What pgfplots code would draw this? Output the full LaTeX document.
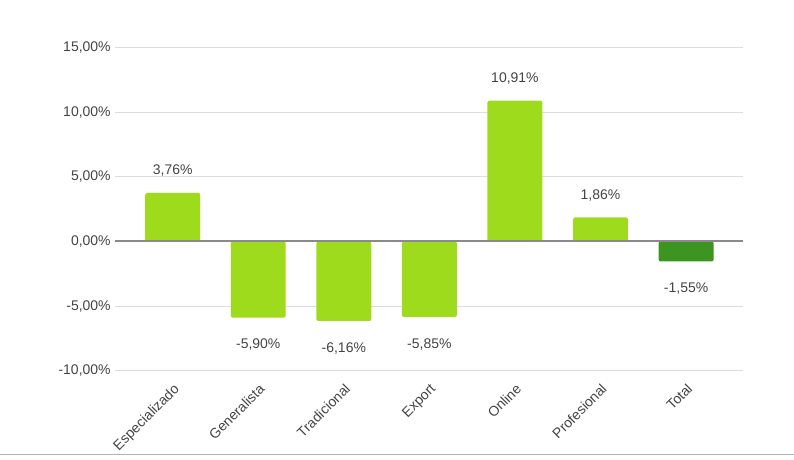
\documentclass[border=0pt]{standalone}
\usepackage{pgfplots}
\pgfplotsset{compat=1.18}
\usepackage{fontspec}
\setmainfont{Liberation Sans}
\definecolor{lgreen}{HTML}{9EDB1C}
\definecolor{dgreen}{HTML}{3E9420}
\definecolor{gridc}{HTML}{DDDDDD}
\definecolor{txt}{HTML}{444444}
\definecolor{zeroc}{HTML}{8A8A8A}
\begin{document}
\begin{tikzpicture}
\begin{axis}[
  scale only axis, width=471pt, height=242.25pt,
  xmin=-0.67, xmax=6.66, ymin=-10, ymax=15,
  axis line style={draw=none},
  tick style={draw=none},
  ymajorgrids, grid style={gridc, line width=0.75pt},
  ytick={-10,-5,0,5,10,15},
  yticklabels={{-10,00\%},{-5,00\%},{0,00\%},{5,00\%},{10,00\%},{15,00\%}},
  xtick={0,...,6},
  xticklabels={Especializado,Generalista,Tradicional,Export,Online,Profesional,Total},
  xticklabel style={rotate=45, anchor=north east, font=\fontsize{10.5}{12}\selectfont, text=txt},
  yticklabel style={font=\fontsize{10.5}{12}\selectfont, text=txt},
  ybar, bar width=41.25pt,
  nodes near coords,
  point meta=explicit symbolic,
  every node near coord/.append style={font=\fontsize{10.5}{12}\selectfont, text=txt, inner ysep=12pt},
  clip=false,
]
\addplot[fill=lgreen, draw=none, bar shift=0pt, rounded corners=1.5pt,
  every node near coord/.append style={anchor=south}] coordinates {
  (0,3.76) [3,76\%]
  (4,10.91) [10,91\%]
  (5,1.86) [1,86\%]
};
\addplot[fill=lgreen, draw=none, bar shift=0pt, rounded corners=1.5pt,
  every node near coord/.append style={anchor=north, yshift=-4pt}] coordinates {
  (1,-5.90) [-5,90\%]
  (2,-6.16) [-6,16\%]
  (3,-5.85) [-5,85\%]
};
\addplot[fill=dgreen, draw=none, bar shift=0pt, rounded corners=1.5pt,
  every node near coord/.append style={anchor=north, yshift=-4pt}] coordinates {
  (6,-1.55) [-1,55\%]
};
\draw[zeroc, line width=1.5pt] (axis cs:-0.67,0) -- (axis cs:6.66,0);
\end{axis}
\draw[gray!60, line width=0.75pt] (current axis.south west) ++(-86.25pt,-63pt) -- ++(595.5pt,0);
\path[use as bounding box] (current axis.south west) ++(-86.25pt,-64.5pt) rectangle ++(595.5pt,342.75pt);
\end{tikzpicture}
\end{document}
